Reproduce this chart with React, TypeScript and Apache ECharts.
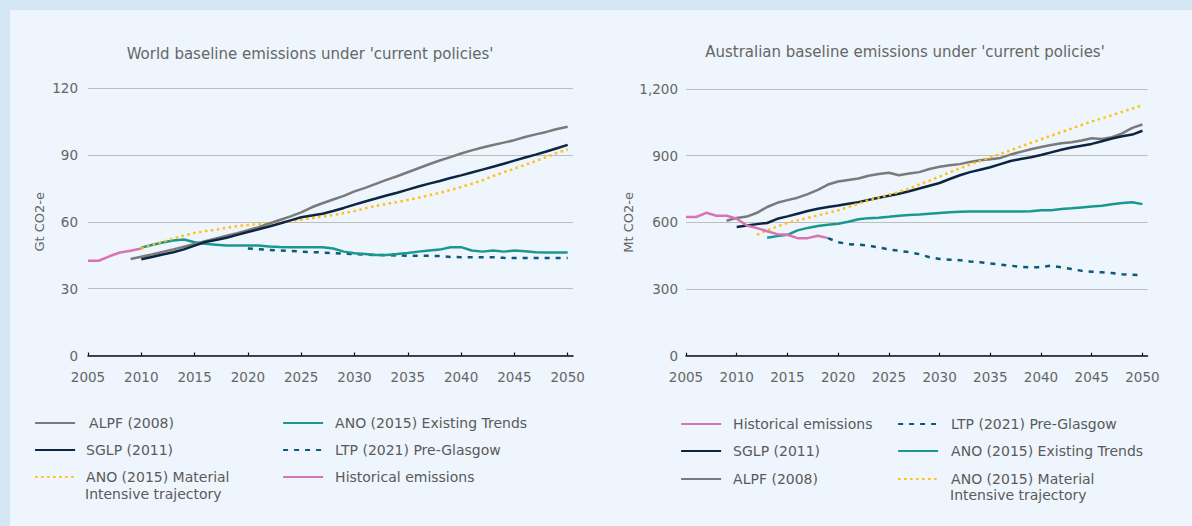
import React, { useEffect, useRef } from "react";
import * as echarts from "echarts";

// ---------- tick labels ----------
const YEAR_TICKS = [2005, 2010, 2015, 2020, 2025, 2030, 2035, 2040, 2045, 2050];

// ---------- series names ----------
const N_HIST = "Historical emissions";
const N_ALPF = "ALPF (2008)";
const N_SGLP = "SGLP (2011)";
const N_MAT = "ANO (2015) Material Intensive trajectory";
const N_ANO = "ANO (2015) Existing Trends";
const N_LTP = "LTP (2021) Pre-Glasgow";
const MAT_LINE1 = "ANO (2015) Material";
const MAT_LINE2 = "Intensive trajectory";

// ---------- World (Gt CO2-e) ----------
const worldHistStart = 2005;
const worldHist = [42.5, 42.5, 44.5, 46.2, 47, 48];
const worldAlpfStart = 2009;
const worldAlpf = [43.3, 44.3, 45.3, 46.5, 47.6, 48.8, 50, 51.3, 52.5, 53.7, 54.9, 56.2, 57.6, 59.2, 60.8, 62.4, 64.2, 66.5, 68.3, 70, 71.6, 73.6, 75.2, 77, 78.8, 80.4, 82.2, 84, 85.8, 87.5, 89, 90.6, 92, 93.3, 94.4, 95.5, 96.6, 98, 99.2, 100.3, 101.6, 102.6];
const worldSglpStart = 2010;
const worldSglp = [43.2, 44.2, 45.3, 46.3, 47.6, 49.3, 50.9, 51.8, 52.8, 54.1, 55.4, 56.6, 57.9, 59.2, 60.6, 62, 62.8, 63.6, 64.8, 66.2, 67.7, 69.1, 70.4, 71.8, 73, 74.4, 75.8, 77.1, 78.3, 79.6, 80.8, 82.1, 83.4, 84.7, 86, 87.4, 88.8, 90.1, 91.5, 93, 94.5];
const worldMatStart = 2010;
const worldMat = [48, 49.5, 51, 52.5, 53.8, 55, 55.8, 56.4, 57.3, 58, 58.5, 59, 59.3, 59.8, 60.3, 60.9, 61.6, 62.3, 63, 63.9, 64.8, 66, 67.1, 68, 68.8, 69.8, 70.8, 71.9, 72.9, 74.3, 75.6, 77, 78.6, 80.5, 82.2, 83.8, 85.5, 87.2, 89, 90.9, 92.4];
const worldAnoStart = 2010;
const worldAno = [48.4, 49.6, 50.7, 51.6, 52, 50.8, 50.1, 49.7, 49.3, 49.3, 49.3, 49.3, 48.9, 48.7, 48.6, 48.6, 48.6, 48.6, 48, 46.6, 45.9, 45.5, 45.1, 45.1, 45.5, 46, 46.6, 47.1, 47.5, 48.6, 48.6, 47.1, 46.6, 47.1, 46.6, 47.1, 46.8, 46.3, 46.2, 46.2, 46.2];
const worldLtpStart = 2020;
const worldLtp = [48, 47.7, 47.4, 47.1, 46.9, 46.6, 46.4, 46.2, 45.9, 45.7, 45.5, 45.3, 45.1, 45, 44.9, 44.7, 44.7, 44.7, 44.6, 44.2, 44.1, 44.1, 44.1, 44.1, 43.8, 43.7, 43.7, 43.7, 43.7, 43.7, 43.7];

// ---------- Australia (Mt CO2-e) ----------
const ausHistStart = 2005;
const ausHist = [624, 624, 643, 630, 630, 616, 586, 574, 560, 547, 544, 529, 529, 540, 529];
const ausLtpStart = 2019;
const ausLtp = [529, 511, 502, 500, 496, 487, 478, 472, 466, 457, 443, 435, 432, 430, 424, 420, 415, 410, 405, 400, 398, 398, 405, 398, 390, 382, 378, 375, 372, 367, 364, 362];
const ausAnoStart = 2013;
const ausAno = [531, 538, 544, 564, 575, 584, 589, 594, 603, 614, 619, 621, 625, 630, 633, 635, 639, 642, 645, 648, 649, 649, 649, 649, 649, 649, 650, 654, 654, 660, 663, 667, 671, 675, 681, 687, 690, 682];
const ausSglpStart = 2010;
const ausSglp = [579, 586, 592, 597, 616, 627, 639, 651, 661, 669, 676, 684, 691, 701, 711, 720, 729, 740, 752, 765, 777, 795, 812, 826, 837, 848, 862, 876, 885, 893, 903, 915, 927, 937, 945, 953, 965, 977, 987, 995, 1012];
const ausAlpfStart = 2009;
const ausAlpf = [607, 620, 626, 643, 669, 688, 700, 711, 727, 746, 770, 784, 791, 797, 810, 818, 823, 812, 820, 826, 840, 850, 857, 862, 872, 879, 884, 890, 905, 917, 929, 939, 948, 956, 960, 968, 978, 975, 983, 1000, 1025, 1040];
const ausMatStart = 2012;
const ausMat = [544, 564, 582, 597, 609, 620, 631, 643, 654, 669, 684, 699, 712, 724, 737, 752, 770, 787, 806, 825, 843, 860, 876, 893, 908, 924, 941, 958, 974, 990, 1006, 1022, 1038, 1054, 1068, 1082, 1097, 1112, 1127];

// ---------- styles ----------
const C_HIST = "#d873b4";
const C_ALPF = "#7a7a7a";
const C_SGLP = "#0c2540";
const C_MAT = "#ffc20e";
const C_ANO = "#1a978f";
const C_LTP = "#0c5a78";
const FONT = "'DejaVu Sans', 'Noto Sans', sans-serif";
const TXT = "#666666";
const LEG_TXT = "#5a5a5a";
const AX_FS = 13.5;
const LEG_FS = 14;

const pairs = (start: number, vals: number[]) => vals.map((v, i) => [start + i, v]);

function lineSeries(name: string, start: number, vals: number[], color: string, type: string, idx: number) {
  return {
    type: "line",
    name,
    xAxisIndex: idx,
    yAxisIndex: idx,
    data: pairs(start, vals),
    symbol: "none",
    showSymbol: false,
    silent: true,
    lineStyle: {
      color,
      width: 2.5,
      type: type === "dotted" ? [2.5, 3.5] : type === "dashed" ? [5, 6] : "solid",
    },
    itemStyle: { color },
  };
}

function xAxis(idx: number) {
  return {
    type: "value",
    gridIndex: idx,
    min: 2005,
    max: 2050.5,
    interval: 5,
    axisLine: { show: true, lineStyle: { color: "#111", width: 1.5 } },
    axisTick: { show: true, inside: true, length: 3, customValues: YEAR_TICKS, lineStyle: { color: "#111", width: 1.2 } },
    axisLabel: {
      customValues: YEAR_TICKS,
      color: TXT,
      fontSize: AX_FS,
      fontFamily: FONT,
      margin: 14,
      formatter: (v: number) => String(v),
    },
    splitLine: { show: false },
  };
}

function yAxis(idx: number, max: number, interval: number, name: string, gap: number, margin: number, comma: boolean) {
  return {
    type: "value",
    gridIndex: idx,
    min: 0,
    max,
    interval,
    name,
    nameLocation: "middle",
    nameGap: gap,
    nameTextStyle: { color: TXT, fontSize: 13, fontFamily: FONT },
    axisLine: { show: false },
    axisTick: { show: false },
    axisLabel: {
      color: TXT,
      fontSize: AX_FS,
      fontFamily: FONT,
      margin,
      formatter: (v: number) => (comma ? v.toLocaleString("en-US") : String(v)),
    },
    splitLine: { show: true, lineStyle: { color: "#bdbdbd", width: 1 } },
  };
}

function legendItem(name: string, left: number, centerY: number, padLeft: number) {
  return {
    show: true,
    data: [name],
    left,
    top: centerY - 8,
    padding: 0,
    itemWidth: 40,
    itemHeight: 16,
    selectedMode: false,
    itemStyle: { opacity: 0, borderWidth: 0 },
    lineStyle: { width: 2.2 },
    formatter: (n: string) => (n === N_MAT ? MAT_LINE1 : n),
    textStyle: {
      color: LEG_TXT,
      fontSize: LEG_FS,
      fontFamily: FONT,
      lineHeight: 16,
      padding: [0, 0, 0, padLeft],
    },
  };
}

function secondLine(left: number, centerY: number) {
  return {
    type: "text",
    left,
    top: centerY - 8,
    silent: true,
    style: { text: MAT_LINE2, fill: LEG_TXT, fontSize: LEG_FS, fontFamily: FONT, lineHeight: 16 },
  };
}

export default function App() {
  const ref = useRef<HTMLDivElement>(null);
  useEffect(() => {
    if (!ref.current) return;
    const chart = echarts.init(ref.current, undefined, { renderer: "svg" });
    const option: any = {
      animation: false,
      backgroundColor: "#d5e7f5",
      graphic: [
        { type: "rect", shape: { x: 10, y: 10, width: 1182, height: 516 }, style: { fill: "#eef5fc" }, z: -10, silent: true },
        secondLine(85, 494),
        secondLine(950, 495),
      ],
      title: [
        {
          text: "World baseline emissions under 'current policies'",
          left: 310,
          top: 46,
          textAlign: "center",
          padding: 0,
          textStyle: { color: TXT, fontSize: 15, fontWeight: "normal", fontFamily: FONT },
        },
        {
          text: "Australian baseline emissions under 'current policies'",
          left: 905,
          top: 44,
          textAlign: "center",
          padding: 0,
          textStyle: { color: TXT, fontSize: 15, fontWeight: "normal", fontFamily: FONT },
        },
      ],
      grid: [
        { left: 88, top: 88, width: 485, height: 267.5, containLabel: false },
        { left: 686, top: 89, width: 461.5, height: 266.7, containLabel: false },
      ],
      xAxis: [xAxis(0), xAxis(1)],
      yAxis: [
        yAxis(0, 120, 30, "Gt CO2-e", 42, 10, false),
        yAxis(1, 1200, 300, "Mt CO2-e", 47, 8, true),
      ],
      legend: [
        legendItem(N_ALPF, 34, 423, 9),
        legendItem(N_SGLP, 34, 450, 6),
        legendItem(N_MAT, 34, 477, 6),
        legendItem(N_ANO, 282, 423, 7),
        legendItem(N_LTP, 282, 450, 7),
        legendItem(N_HIST, 282, 477, 7),
        legendItem(N_HIST, 680, 424, 7),
        legendItem(N_SGLP, 680, 451, 7),
        legendItem(N_ALPF, 680, 479, 7),
        legendItem(N_LTP, 897, 424, 8),
        legendItem(N_ANO, 897, 451, 8),
        legendItem(N_MAT, 897, 479, 8),
      ],
      series: [
        lineSeries(N_LTP, worldLtpStart, worldLtp, C_LTP, "dashed", 0),
        lineSeries(N_ANO, worldAnoStart, worldAno, C_ANO, "solid", 0),
        lineSeries(N_MAT, worldMatStart, worldMat, C_MAT, "dotted", 0),
        lineSeries(N_ALPF, worldAlpfStart, worldAlpf, C_ALPF, "solid", 0),
        lineSeries(N_SGLP, worldSglpStart, worldSglp, C_SGLP, "solid", 0),
        lineSeries(N_HIST, worldHistStart, worldHist, C_HIST, "solid", 0),
        lineSeries(N_LTP, ausLtpStart, ausLtp, C_LTP, "dashed", 1),
        lineSeries(N_ANO, ausAnoStart, ausAno, C_ANO, "solid", 1),
        lineSeries(N_ALPF, ausAlpfStart, ausAlpf, C_ALPF, "solid", 1),
        lineSeries(N_SGLP, ausSglpStart, ausSglp, C_SGLP, "solid", 1),
        lineSeries(N_MAT, ausMatStart, ausMat, C_MAT, "dotted", 1),
        lineSeries(N_HIST, ausHistStart, ausHist, C_HIST, "solid", 1),
      ],
    };
    chart.setOption(option);
    return () => chart.dispose();
  }, []);
  return (
    <div
      ref={ref}
      style={{ position: "absolute", left: 0, top: 0, width: 1192, height: 526 }}
    />
  );
}
